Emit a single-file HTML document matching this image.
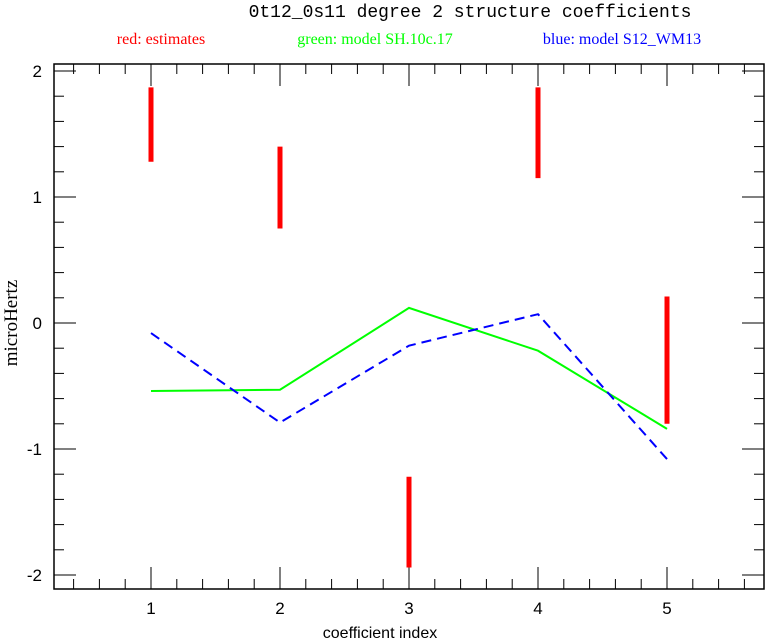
<!DOCTYPE html>
<html><head><meta charset="utf-8"><style>
html,body{margin:0;padding:0;background:#fff}
svg{display:block}
</style></head><body>
<svg id="chart" width="767" height="641" xmlns="http://www.w3.org/2000/svg" font-family="Liberation Sans, sans-serif">
<text x="470" y="17" text-anchor="middle" style="font-family:'Liberation Mono',monospace;font-size:18px" fill="#000">0t12_0s11 degree 2 structure coefficients</text>
<text x="161" y="44" text-anchor="middle" style="font-family:'Liberation Serif',serif;font-size:16px" fill="#f00">red: estimates</text>
<text x="375" y="44" text-anchor="middle" style="font-family:'Liberation Serif',serif;font-size:16px" fill="#0f0">green: model SH.10c.17</text>
<text x="622" y="44" text-anchor="middle" style="font-family:'Liberation Serif',serif;font-size:16px" fill="#00f">blue: model S12_WM13</text>
<text transform="translate(17,323) rotate(-90)" text-anchor="middle" style="font-family:'Liberation Serif',serif;font-size:19px" fill="#000">microHertz</text>
<text x="380" y="638" text-anchor="middle" style="font-size:16px" fill="#000">coefficient index</text>
<g id="plot"></g>
</svg>
<script>
const categories=[1,2,3,4,5];
const estLow=[1.28,0.75,-1.94,1.15,-0.80];
const estHigh=[1.87,1.40,-1.22,1.87,0.21];
const greenVals=[-0.54,-0.53,0.12,-0.22,-0.84];
const blueVals=[-0.08,-0.79,-0.18,0.07,-1.08];
const xTicks=[1,2,3,4,5];
const yTicks=[-2,-1,0,1,2];
const L=54,R=764,T=64,B=589;
const x=v=>151+(v-1)*129;
const y=v=>323-v*126;
const NS="http://www.w3.org/2000/svg";
const g=document.getElementById('plot');
function mk(t,a){const e=document.createElementNS(NS,t);for(const k in a)e.setAttribute(k,a[k]);g.appendChild(e);return e;}
let f=mk('rect',{x:L,y:T,width:R-L,height:B-T,fill:'none',stroke:'#000','stroke-width':1.5});


for(let v=0.4;v<5.75;v+=0.2){const xx=x(v);const major=Math.abs(v-Math.round(v))<0.01;const len=major?22:10;
 mk('line',{x1:xx,y1:B,x2:xx,y2:B-len,stroke:'#000'});mk('line',{x1:xx,y1:T,x2:xx,y2:T+len,stroke:'#000'});}
for(let v=-2;v<=2.01;v+=0.2){const yy=y(v);const major=Math.abs(v-Math.round(v))<0.01;const len=major?22:10;
 mk('line',{x1:L,y1:yy,x2:L+len,y2:yy,stroke:'#000'});mk('line',{x1:R,y1:yy,x2:R-len,y2:yy,stroke:'#000'});}
xTicks.forEach(v=>{const t=mk('text',{x:x(v),y:614,'text-anchor':'middle','font-size':17});t.textContent=v;
 
 });
yTicks.forEach(v=>{const t=mk('text',{x:42,y:y(v)+6,'text-anchor':'end','font-size':17});t.textContent=v;
 
 });
const gp=mk('polyline',{points:categories.map((c,i)=>x(c)+','+y(greenVals[i])).join(' '),fill:'none',stroke:'#0f0','stroke-width':2});


const bp=mk('polyline',{points:categories.map((c,i)=>x(c)+','+y(blueVals[i])).join(' '),fill:'none',stroke:'#00f','stroke-width':2,'stroke-dasharray':'10,6'});


categories.forEach((c,i)=>{const b=mk('line',{x1:x(c),x2:x(c),y1:y(estLow[i]),y2:y(estHigh[i]),stroke:'#f00','stroke-width':5});
 
 });
</script>
</body></html>
